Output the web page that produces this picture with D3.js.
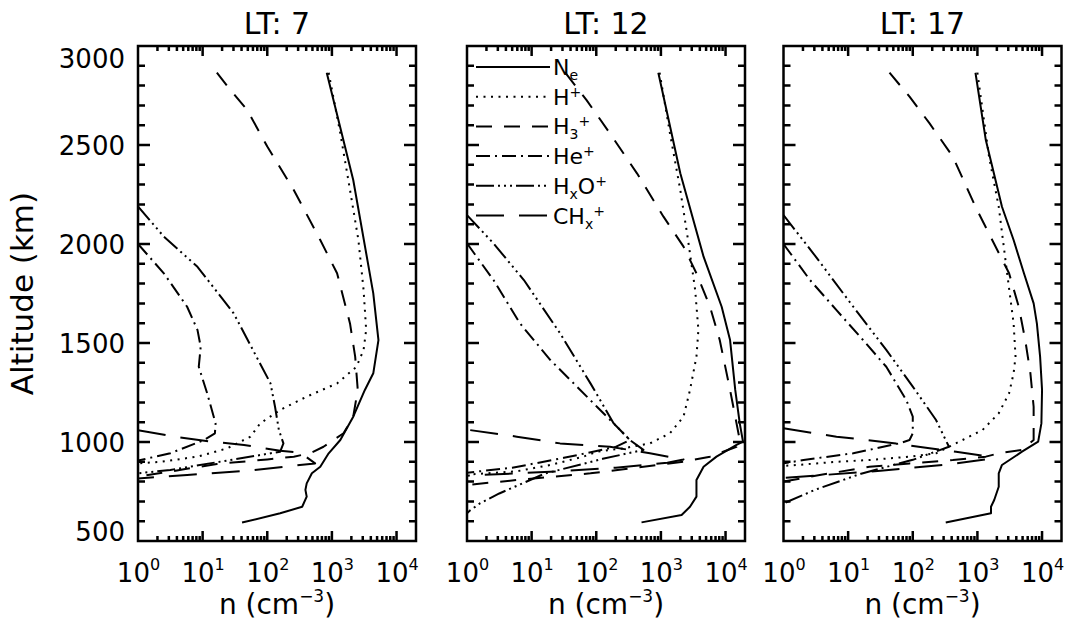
<!DOCTYPE html>
<html>
<head>
<meta charset="utf-8">
<script src="https://cdn.jsdelivr.net/npm/d3@7"></script>
<style>
  body { margin: 0; background: #fff; }
</style>
</head>
<body>
<div id="plot"></div>
<script>
// each profile: [log10 n (cm^-3), altitude (km)]

// LT 7
const ne7   = [[2.92,2865],[3.33,2323],[3.64,1751],[3.72,1515],[3.64,1347],[3.51,1263],[3.33,1128],[3.13,1010],[2.95,943],[2.82,875],[2.69,842],[2.61,791],[2.59,758],[2.61,724],[2.54,673],[2.20,640],[1.61,593]];
const hp7   = [[2.95,2865],[3.13,2559],[3.28,2273],[3.41,2020],[3.49,1768],[3.53,1566],[3.49,1465],[3.38,1380],[3.08,1296],[2.61,1229],[2.20,1162],[1.89,1094],[1.74,1027],[1.38,968],[0.92,926],[0.35,900],[0,892]];
const h3p7  = [[1.22,2865],[1.43,2778],[1.69,2677],[2.0,2492],[2.41,2273],[2.82,2020],[3.08,1852],[3.28,1599],[3.36,1431],[3.40,1263],[3.33,1128],[3.18,1044],[2.87,976],[2.66,943],[2.41,926],[2.0,912],[1.22,889],[0.71,862],[0,825]];
const hep7  = [[0,2000],[0.40,1852],[0.76,1683],[0.92,1566],[0.97,1481],[0.94,1380],[1.07,1246],[1.20,1094],[1.19,1044],[1.02,1010],[0.50,943],[0,906]];
const hxop7 = [[0,2190],[0.40,2037],[0.92,1885],[1.48,1650],[2.05,1296],[2.12,1178],[2.18,1060],[2.25,993],[2.20,951],[1.28,901],[0.50,859],[0,842]];
const chxp7 = [[0,1060],[0.56,1027],[1.12,1002],[1.64,985],[2.20,956],[2.51,946],[2.74,892],[1.79,858],[0.76,833],[0,816]];

// LT 12
const ne12   = [[2.96,2865],[3.30,2357],[3.66,1936],[3.94,1683],[4.07,1515],[4.15,1263],[4.22,1094],[4.27,1002],[4.17,985],[3.86,926],[3.66,875],[3.55,808],[3.55,724],[3.45,673],[3.32,631],[2.70,594]];
const hp12   = [[2.98,2865],[3.14,2559],[3.30,2273],[3.42,2020],[3.53,1768],[3.58,1566],[3.55,1431],[3.45,1263],[3.35,1128],[3.14,1044],[2.83,993],[2.42,968],[2.01,951],[1.80,926],[1.29,884],[0.77,852],[0,835]];
const h3p12  = [[1.52,2865],[1.85,2727],[2.21,2559],[2.63,2357],[3.04,2138],[3.35,1987],[3.55,1852],[3.76,1683],[3.91,1515],[4.07,1263],[4.17,1094],[4.22,1010],[4.17,976],[3.76,926],[3.35,900],[2.73,875],[1.91,842],[0.77,808],[0,783]];
const hep12  = [[0,2003],[0.41,1818],[0.82,1599],[1.29,1414],[1.70,1280],[2.01,1178],[2.32,1077],[2.52,1010],[2.30,975],[1.5,920],[0.7,870],[0,845]];
const hxop12 = [[0,2146],[0.41,2003],[0.88,1818],[1.44,1549],[1.91,1296],[2.27,1094],[2.52,1010],[2.73,960],[2.1,915],[1.2,840],[0.5,740],[0.2,690],[0.05,655],[0,640]];
const chxp12 = [[0.05,1060],[0.77,1027],[1.44,993],[2.21,976],[2.83,943],[3.35,912],[3.1,895],[2.3,870],[1.2,848],[0,830]];

// LT 17
const ne17   = [[2.97,2865],[3.13,2525],[3.38,2188],[3.56,2020],[3.72,1852],[3.87,1700],[3.92,1599],[3.97,1431],[4.0,1263],[3.99,1094],[3.94,1002],[3.69,951],[3.38,884],[3.33,842],[3.33,774],[3.26,707],[3.21,673],[3.21,640],[2.51,593]];
const hp17   = [[3.0,2865],[3.18,2441],[3.33,2188],[3.46,1852],[3.56,1599],[3.59,1431],[3.56,1347],[3.49,1246],[3.33,1145],[3.08,1061],[2.77,1010],[2.56,976],[2.36,943],[1.95,926],[1.33,909],[0.82,900],[0.21,884],[0,879]];
const h3p17  = [[1.64,2865],[1.95,2744],[2.26,2609],[2.62,2441],[2.97,2188],[3.28,1987],[3.49,1852],[3.64,1683],[3.74,1515],[3.82,1347],[3.87,1178],[3.87,1010],[3.69,960],[3.33,943],[3.13,926],[2.62,909],[1.95,892],[1.33,875],[0.56,833],[0,800]];
const hep17  = [[0,2000],[0.41,1818],[0.82,1666],[1.23,1515],[1.59,1380],[1.90,1212],[2.0,1128],[2.0,1044],[1.95,1010],[1.79,993],[1.08,943],[0.31,909],[0,892]];
const hxop17 = [[0,2146],[0.46,1953],[1.08,1683],[1.59,1465],[2.0,1280],[2.36,1111],[2.56,976],[2.0,910],[1.2,840],[0.5,760],[0,690]];
const chxp17 = [[0,1069],[0.82,1027],[1.74,993],[2.26,968],[2.67,951],[3.13,929],[3.2,915],[2.5,885],[1.5,855],[0,818]];

const titles = ["LT: 7", "LT: 12", "LT: 17"];
const yTicks = [500, 1000, 1500, 2000, 2500, 3000];
const xTicks = [1, 10, 100, 1000, 10000];
const xTickExp = ["0", "1", "2", "3", "4"];
// legend labels as [text, shift] pieces
const legendLabels = [
  [["N",0],["e","sub"]],
  [["H",0],["+","sup"]],
  [["H",0],["3","sub"],["+","sup"]],
  [["He",0],["+","sup"]],
  [["H",0],["x","sub"],["O",0],["+","sup"]],
  [["CH",0],["x","sub"],["+","sup"]]
];

const panels = [
  [ne7, hp7, h3p7, hep7, hxop7, chxp7],
  [ne12, hp12, h3p12, hep12, hxop12, chxp12],
  [ne17, hp17, h3p17, hep17, hxop17, chxp17]
];

// IDL linestyles 0..5
const dashes = [null, "2,5.5", "16,12", "14,5,2,5", "18,4,2,4,2,4,2,4", "28,15"];

const width = 1068, height = 625;
const panelLeft = [138, 467, 783.5], panelW = 278;
const plotTop = 46, plotBottom = 541;
const font = "DejaVu Sans, sans-serif";

const svg = d3.select("#plot").append("svg")
  .attr("width", width).attr("height", height)
  .style("font-family", font);
svg.append("rect").attr("width", width).attr("height", height).attr("fill", "#fff");

const yMinor = d3.range(500, 3001, 100).filter(v => v % 500 !== 0);
const xMinor = [];
xTicks.forEach(d => { for (let k = 2; k <= 9; k++) if (k * d <= 2e4) xMinor.push(k * d); });

panels.forEach((series, p) => {
  const x = d3.scaleLog().domain([1, 2e4]).range([panelLeft[p], panelLeft[p] + panelW]);
  const y = d3.scaleLinear().domain([500, 3000]).range([plotBottom, plotTop]);
  const [x0, x1] = x.range();

  const clipId = "clip" + p;
  svg.append("defs").append("clipPath").attr("id", clipId)
    .append("rect").attr("x", x0).attr("y", plotTop).attr("width", x1 - x0).attr("height", plotBottom - plotTop);

  const line = d3.line()
    .x(d => x(Math.pow(10, d[0])))
    .y(d => y(d[1]));

  const g = svg.append("g");
  g.append("g").attr("clip-path", `url(#${clipId})`)
    .selectAll("path").data(series).join("path")
    .attr("d", line)
    .attr("fill", "none")
    .attr("stroke", "#000")
    .attr("stroke-width", 2)
    .attr("stroke-linejoin", "round")
    .attr("stroke-dasharray", (d, i) => dashes[i]);

  // frame plus inward ticks on all four sides, as one path
  const fp = d3.path();
  fp.rect(x0, plotTop, x1 - x0, plotBottom - plotTop);
  yTicks.concat(yMinor).forEach(v => {
    const len = yTicks.includes(v) ? 12 : 7;
    fp.moveTo(x0, y(v)); fp.lineTo(x0 + len, y(v));
    fp.moveTo(x1, y(v)); fp.lineTo(x1 - len, y(v));
  });
  xTicks.concat(xMinor).forEach(v => {
    const len = xTicks.includes(v) ? 10 : 5;
    fp.moveTo(x(v), plotBottom); fp.lineTo(x(v), plotBottom - len);
    fp.moveTo(x(v), plotTop); fp.lineTo(x(v), plotTop + len);
  });
  svg.append("path")
    .attr("d", fp.toString())
    .attr("fill", "none")
    .attr("stroke", "#000")
    .attr("stroke-width", 2.5);

  // x tick labels 10^k
  const xa = g.append("g").attr("transform", `translate(0,${plotBottom})`)
    .call(d3.axisBottom(x).tickValues(xTicks).tickSize(0).tickFormat(() => ""));
  xa.select(".domain").remove();
  xa.attr("font-family", font).attr("font-size", 26);
  xa.selectAll(".tick text")
    .attr("y", 41).attr("dy", null).attr("fill", "#000")
    .each(function(d, i) {
      const t = d3.select(this);
      t.append("tspan").text("10");
      t.append("tspan").attr("dy", -12).attr("font-size", 16).text(xTickExp[i]);
    });

  // x axis title
  const xt = g.append("text")
    .attr("x", (x0 + x1) / 2).attr("y", 614)
    .attr("text-anchor", "middle").attr("font-size", 28);
  xt.append("tspan").text("n (cm");
  xt.append("tspan").attr("dy", -12).attr("font-size", 17).text("\u22123");
  xt.append("tspan").attr("dy", 12).text(")");

  // panel title
  g.append("text")
    .attr("x", (x0 + x1) / 2).attr("y", 34)
    .attr("text-anchor", "middle").attr("font-size", 30)
    .text(titles[p]);

  if (p === 0) {
    const ya = g.append("g").attr("transform", `translate(${x0},0)`)
      .call(d3.axisLeft(y).tickValues(yTicks).tickSize(0).tickPadding(13).tickFormat(d3.format("d")));
    ya.select(".domain").remove();
    ya.attr("font-family", font).attr("font-size", 26);
    ya.selectAll(".tick text").attr("fill", "#000")
      .attr("dy", d => d === 3000 ? 21 : d === 500 ? -0.5 : 9.5);

    g.append("text")
      .attr("transform", `translate(33,${(plotTop + plotBottom) / 2}) rotate(-90)`)
      .attr("text-anchor", "middle").attr("font-size", 31)
      .text("Altitude (km)");
  }

  if (p === 1) {
    const lg = g.append("g");
    legendLabels.forEach((parts, i) => {
      const ly = 67 + i * 29.7;
      lg.append("line")
        .attr("x1", x0 + 9).attr("x2", x0 + 83).attr("y1", ly).attr("y2", ly)
        .attr("stroke", "#000").attr("stroke-width", 2)
        .attr("stroke-dasharray", dashes[i]);
      const t = lg.append("text").attr("x", x0 + 86).attr("y", ly + 8).attr("font-size", 22);
      let cur = 0;
      parts.forEach(([s, shift]) => {
        const target = shift === "sub" ? 5 : shift === "sup" ? -8 : 0;
        t.append("tspan")
          .attr("dy", target - cur)
          .attr("font-size", shift ? 14 : 22)
          .text(s);
        cur = target;
      });
    });
  }
});
</script>
</body>
</html>
